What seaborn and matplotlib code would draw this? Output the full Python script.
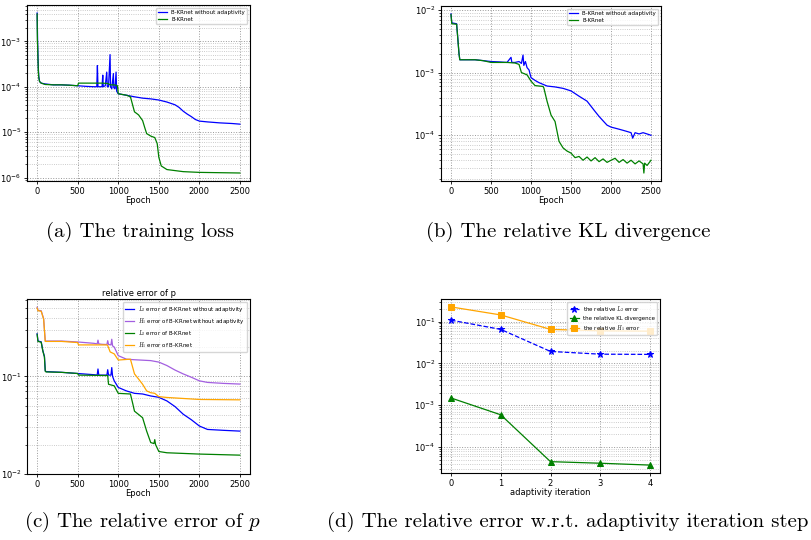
import numpy as np
import pandas as pd
import matplotlib
matplotlib.use("Agg")
import matplotlib.pyplot as plt
import seaborn as sns

# ---------------- data ----------------
# (a) training loss
a_blue_ep = [0, 3, 6, 10, 15, 20, 30, 50, 100, 200, 300, 400, 500, 600, 700, 735, 743, 750, 780, 800,
             809, 815, 840, 858, 865, 880, 899, 905, 920, 940, 945, 960, 973, 980, 1000, 1100, 1200,
             1300, 1400, 1500, 1600, 1700, 1750, 1800, 1850, 1900, 1950, 2000, 2100, 2250, 2400, 2499]
a_blue_val = [4.2e-3, 2.0e-3, 1.0e-3, 5e-4, 2.5e-4, 1.7e-4, 1.3e-4, 1.2e-4, 1.15e-4, 1.1e-4, 1.1e-4,
              1.08e-4, 1.05e-4, 1.02e-4, 1.0e-4, 1.0e-4, 2.9e-4, 1.0e-4, 1.0e-4, 1.0e-4,
              1.8e-4, 1.0e-4, 1.05e-4, 2.1e-4, 1.0e-4, 1.0e-4, 5.1e-4, 1.0e-4, 9e-5, 1.95e-4, 9.5e-5,
              9e-5, 2.1e-4, 8e-5, 7e-5, 6.5e-5, 6.0e-5,
              5.6e-5, 5.4e-5, 5.1e-5, 4.6e-5, 4.0e-5, 3.5e-5, 2.9e-5, 2.5e-5, 2.2e-5, 1.9e-5, 1.75e-5,
              1.68e-5, 1.6e-5, 1.55e-5, 1.5e-5]
a_green_ep = [0, 3, 6, 10, 15, 20, 30, 50, 100, 200, 300, 400, 500, 510, 600, 700, 800, 870, 900, 950,
              990, 1000, 1100, 1150, 1200, 1250, 1300, 1330, 1350, 1400, 1450, 1480, 1500, 1530, 1600,
              1800, 2000, 2250, 2499]
a_green_val = [4.0e-3, 1.0e-3, 8e-4, 4e-4, 2.2e-4, 1.6e-4, 1.3e-4, 1.2e-4, 1.12e-4, 1.1e-4, 1.1e-4,
               1.08e-4, 1.05e-4, 1.2e-4, 1.2e-4, 1.2e-4, 1.2e-4, 1.18e-4, 1.1e-4, 1.1e-4,
               1.05e-4, 7.0e-5, 6.5e-5, 6.0e-5, 2.8e-5, 2.4e-5, 1.8e-5, 1.2e-5, 9.3e-6, 8.2e-6, 7.6e-6,
               5.6e-6, 2.8e-6, 1.8e-6, 1.5e-6,
               1.35e-6, 1.3e-6, 1.28e-6, 1.26e-6]

# (b) relative KL divergence
b_blue_ep = [0, 10, 70, 80, 100, 110, 200, 300, 400, 500, 600, 700, 750, 760, 800, 850, 880, 900, 910,
             930, 950, 975, 1000, 1050, 1100, 1200, 1300, 1400, 1500, 1600, 1700, 1800, 1850, 1900,
             1950, 2000, 2050, 2100, 2150, 2200, 2250, 2270, 2300, 2350, 2400, 2450, 2499]
b_blue_val = [8.6e-3, 6.2e-3, 6.0e-3, 4.2e-3, 2.0e-3, 1.6e-3, 1.6e-3, 1.6e-3, 1.55e-3, 1.5e-3, 1.48e-3,
              1.45e-3, 1.75e-3, 1.45e-3, 1.45e-3, 1.5e-3, 1.4e-3, 1.9e-3, 1.3e-3,
              1.5e-3, 1.2e-3, 1.1e-3, 8.3e-4, 7.5e-4, 6.9e-4, 6.1e-4, 5.9e-4, 5.6e-4, 5.1e-4, 4.2e-4,
              3.5e-4, 2.4e-4, 2.0e-4, 1.7e-4,
              1.45e-4, 1.35e-4, 1.3e-4, 1.25e-4, 1.2e-4, 1.15e-4, 1.1e-4, 9e-5, 1.1e-4, 1.05e-4,
              1.1e-4, 1.05e-4, 1.0e-4]
b_green_ep = [0, 10, 70, 80, 100, 110, 200, 300, 400, 500, 600, 700, 800, 850, 880, 950, 1000, 1050,
              1100, 1150, 1160, 1200, 1250, 1300, 1350, 1400, 1450, 1500, 1550, 1600, 1650, 1700, 1750,
              1800, 1850, 1900, 1950, 2000, 2050, 2100, 2150, 2200, 2250, 2300, 2350, 2400, 2410, 2420,
              2450, 2499]
b_green_val = [8.4e-3, 6.0e-3, 5.9e-3, 4.2e-3, 2.0e-3, 1.6e-3, 1.6e-3, 1.6e-3, 1.55e-3, 1.45e-3,
               1.45e-3, 1.45e-3, 1.42e-3, 1.35e-3, 1.0e-3, 9.2e-4, 7.3e-4, 6.2e-4,
               6.1e-4, 6.0e-4, 5.7e-4, 3.5e-4, 2.1e-4, 1.66e-4, 8e-5, 6.3e-5, 5.6e-5, 5.2e-5, 4.4e-5,
               4.6e-5, 4.0e-5, 4.5e-5, 3.9e-5,
               4.4e-5, 3.8e-5, 4.2e-5, 3.7e-5, 4.0e-5, 4.3e-5, 3.7e-5, 4.1e-5, 3.6e-5, 4.0e-5, 3.5e-5,
               3.9e-5, 3.5e-5, 2.5e-5, 3.6e-5,
               3.3e-5, 4.0e-5]

# (c) relative error of p
c_l2_blue_ep = [0, 10, 50, 70, 90, 100, 110, 300, 500, 700, 740, 750, 760, 800, 860, 870, 880, 910, 920,
                930, 950, 1000, 1100, 1200, 1300, 1400, 1500, 1600, 1700, 1800, 1900, 2000, 2100, 2300,
                2499]
c_l2_blue_val = [0.273, 0.23, 0.226, 0.184, 0.16, 0.114, 0.112, 0.11, 0.107, 0.104, 0.103, 0.119, 0.103,
                 0.103, 0.103, 0.117, 0.103, 0.103, 0.123,
                 0.1, 0.09, 0.077, 0.071, 0.067, 0.066, 0.063, 0.061, 0.056, 0.049, 0.041, 0.036, 0.031,
                 0.0286, 0.028, 0.0275]
c_h1_purple_ep = [0, 10, 50, 80, 100, 110, 300, 500, 700, 740, 750, 760, 800, 860, 870, 880, 910, 920,
                  930, 950, 1000, 1100, 1200, 1400, 1500, 1600, 1700, 1800, 1900, 2000, 2100, 2300, 2499]
c_h1_purple_val = [0.51, 0.475, 0.47, 0.39, 0.23, 0.23, 0.23, 0.225, 0.218, 0.215, 0.235, 0.215, 0.213,
                   0.212, 0.232, 0.212, 0.21, 0.24,
                   0.205, 0.2, 0.163, 0.15, 0.148, 0.145, 0.14, 0.129, 0.116, 0.106, 0.098, 0.09, 0.0867,
                   0.0847, 0.0834]
c_l2_green_ep = [0, 10, 50, 70, 90, 100, 110, 300, 500, 510, 870, 880, 950, 1000, 1150, 1180, 1200, 1300,
                 1350, 1400, 1440, 1450, 1460, 1500, 1600, 2000, 2499]
c_l2_green_val = [0.27, 0.228, 0.224, 0.182, 0.158, 0.113, 0.111, 0.11, 0.107, 0.103, 0.102, 0.083,
                  0.08, 0.067, 0.066, 0.052, 0.044, 0.0377,
                  0.0275, 0.021, 0.0205, 0.0225, 0.02, 0.017, 0.0165, 0.016, 0.0156]
c_h1_orange_ep = [0, 10, 50, 80, 100, 110, 300, 500, 510, 860, 870, 900, 950, 1000, 1150, 1200, 1250,
                  1300, 1350, 1400, 1450, 1500, 1600, 2000, 2499]
c_h1_orange_val = [0.5, 0.47, 0.465, 0.385, 0.228, 0.228, 0.228, 0.222, 0.21, 0.21, 0.207, 0.178, 0.17,
                   0.147, 0.15, 0.106, 0.094,
                   0.083, 0.071, 0.068, 0.067, 0.062, 0.0608, 0.058, 0.0575]

# (d) error vs adaptivity iteration
d_iters = [0, 1, 2, 3, 4]
d_l2 = [0.108, 0.065, 0.0193, 0.0166, 0.0164]
d_kl = [1.49e-3, 5.9e-4, 4.47e-5, 4.1e-5, 3.7e-5]
d_h1 = [0.224, 0.144, 0.065, 0.060, 0.059]

captions = ["(a) The training loss", "(b) The relative KL divergence",
            "(c) The relative error of $p$", "(d) The relative error w.r.t. adaptivity iteration step"]

# ---------------- styling ----------------
plt.rcParams["mathtext.fontset"] = "cm"
W, H = 811, 540
fig = plt.figure(figsize=(W / 100, H / 100), dpi=100)


def box(l, t, r, b):
    return [l / W, 1 - b / H, (r - l) / W, (b - t) / H]


ax_a = fig.add_axes(box(27, 5, 250, 181))
ax_b = fig.add_axes(box(441, 6, 661, 181))
ax_c = fig.add_axes(box(27, 299, 250, 474))
ax_d = fig.add_axes(box(441, 299, 660, 473))

BLUE, GREEN, ORANGE, PURPLE = "#0000ff", "#008000", "#ffa500", "#a35fe0"
LW = 0.9


def style(ax):
    ax.set_yscale("log")
    ax.grid(True, which="major", linestyle=":", color="#999999", linewidth=0.7)
    ax.grid(True, which="minor", linestyle=":", color="#bbbbbb", linewidth=0.6)
    ax.tick_params(labelsize=6, length=2.5, width=0.6, pad=1.5)
    ax.tick_params(which="minor", length=1.5, width=0.5)
    for s in ax.spines.values():
        s.set_linewidth(0.8)


def curve(ax, x, y, color, label):
    sns.lineplot(x=x, y=y, ax=ax, color=color, linewidth=LW, label=label)


# (a)
curve(ax_a, a_blue_ep, a_blue_val, BLUE, "B-KRnet without adaptivity")
curve(ax_a, a_green_ep, a_green_val, GREEN, "B-KRnet")
# (b)
curve(ax_b, b_blue_ep, b_blue_val, BLUE, "B-KRnet without adaptivity")
curve(ax_b, b_green_ep, b_green_val, GREEN, "B-KRnet")
# (c)
curve(ax_c, c_l2_blue_ep, c_l2_blue_val, BLUE, "$L_2$ error of B-KRnet without adaptivity")
curve(ax_c, c_h1_purple_ep, c_h1_purple_val, PURPLE, "$H_1$ error of B-KRnet without adaptivity")
curve(ax_c, c_l2_green_ep, c_l2_green_val, GREEN, "$L_2$ error of B-KRnet")
curve(ax_c, c_h1_orange_ep, c_h1_orange_val, ORANGE, "$H_1$ error of B-KRnet")
# (d)
sns.lineplot(x=d_iters, y=d_l2, ax=ax_d, color=BLUE, linestyle="--", marker="*", markersize=5,
             markeredgecolor=BLUE, linewidth=LW, label="the relative $L_2$ error")
sns.lineplot(x=d_iters, y=d_kl, ax=ax_d, color=GREEN, marker="^", markersize=4,
             markeredgecolor=GREEN, linewidth=LW, label="the relative KL divergence")
sns.lineplot(x=d_iters, y=d_h1, ax=ax_d, color=ORANGE, marker="s", markersize=4,
             markeredgecolor=ORANGE, linewidth=LW, label="the relative $H_1$ error")

for ax in (ax_a, ax_b, ax_c, ax_d):
    style(ax)
    ax.legend(loc="upper right", fontsize=4.0, handlelength=1.6, borderpad=0.4, labelspacing=0.35,
              framealpha=0.8)

for ax in (ax_a, ax_b, ax_c):
    ax.set_xticks([0, 500, 1000, 1500, 2000, 2500])
    ax.set_xlabel("Epoch", fontsize=6, labelpad=0.5)
ax_c.set_ylim(0.01, 0.62)
ax_c.set_title("relative error of p", fontsize=6, pad=2)
ax_d.set_xticks(d_iters)
ax_d.set_xlabel("adaptivity iteration", fontsize=6, labelpad=0.5)

# captions
cap_kw = dict(fontsize=15, family="cmr10", ha="center", va="center")
fig.text(140 / W, 1 - 232 / H, captions[0], **cap_kw)
fig.text(568 / W, 1 - 232 / H, captions[1], **cap_kw)
fig.text(142 / W, 1 - 522 / H, captions[2], **cap_kw)
fig.text(568 / W, 1 - 522 / H, captions[3], **cap_kw)

fig.savefig("out.png", dpi=100)
